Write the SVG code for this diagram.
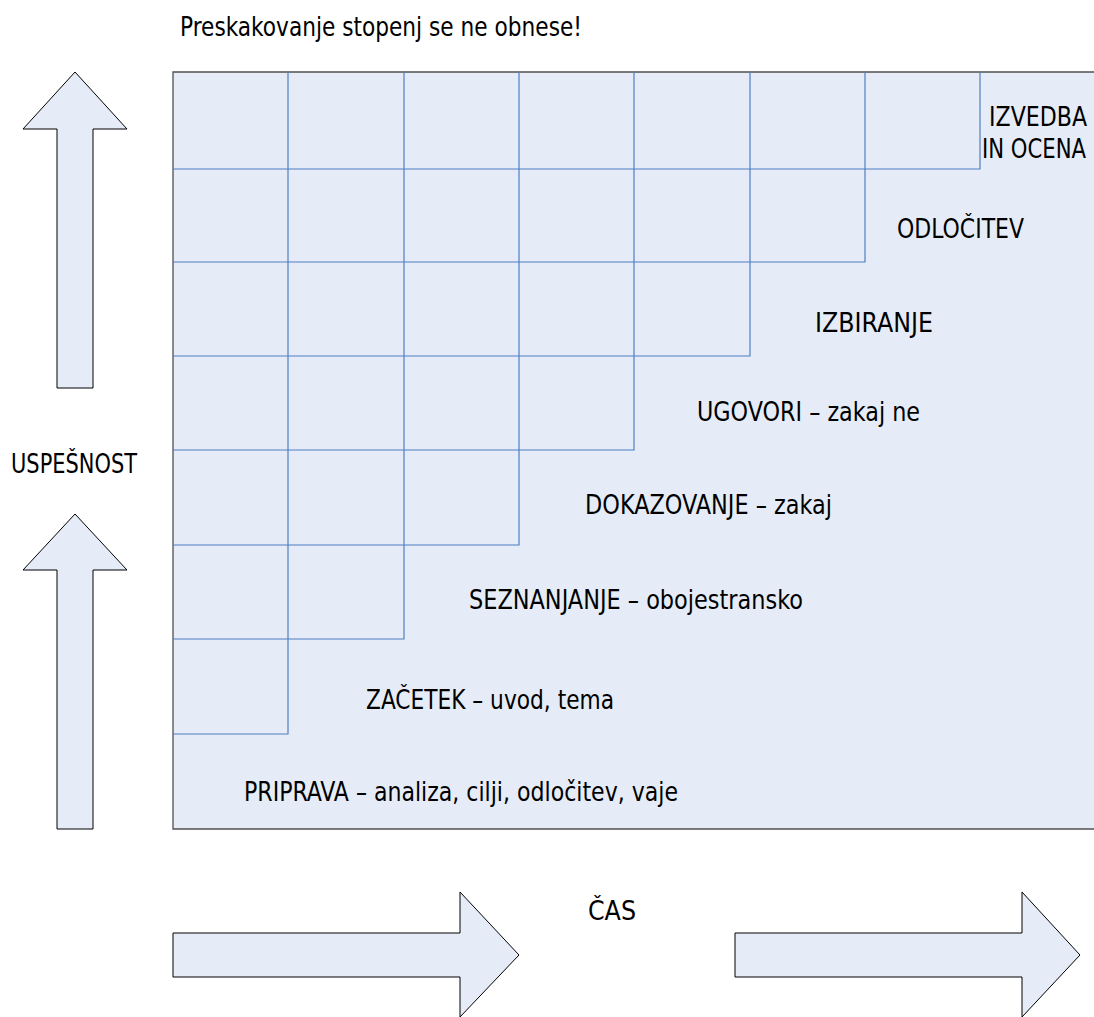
<svg xmlns="http://www.w3.org/2000/svg" width="1094" height="1017" viewBox="0 0 1094 1017">
<style>
.t{font-family:"DejaVu Sans Condensed","DejaVu Sans",sans-serif;font-stretch:condensed;font-size:26.5px;fill:#000}
.arrow{fill:#e6ecf7;stroke:#000;stroke-width:1}
.grid{fill:none;stroke:#4f7fc4;stroke-width:1.2}
</style>
<rect width="1094" height="1017" fill="#fff"/>
<text class="t" x="180" y="36" textLength="402" lengthAdjust="spacingAndGlyphs">Preskakovanje stopenj se ne obnese!</text>
<g id="board">
<rect x="173" y="72" width="921" height="757" fill="#e6ecf7"/>
<path d="M1094 72H173V829H1094" fill="none" stroke="#505050" stroke-width="1.3"/>
<path class="grid" d="M173 169H980V72 M173 262H865V72 M173 356H750V72 M173 450H634V72 M173 545H519V72 M173 639H404V72 M173 734H288V72"/>
</g>
<g id="labels">
<text class="t" x="989" y="126" textLength="98" lengthAdjust="spacingAndGlyphs">IZVEDBA</text>
<text class="t" x="982" y="158" textLength="104" lengthAdjust="spacingAndGlyphs">IN OCENA</text>
<text class="t" x="897" y="238" textLength="127" lengthAdjust="spacingAndGlyphs">ODLOČITEV</text>
<text class="t" x="815" y="332" textLength="118" lengthAdjust="spacingAndGlyphs">IZBIRANJE</text>
<text class="t" x="697" y="421" textLength="223" lengthAdjust="spacingAndGlyphs">UGOVORI – zakaj ne</text>
<text class="t" x="585" y="514" textLength="247" lengthAdjust="spacingAndGlyphs">DOKAZOVANJE – zakaj</text>
<text class="t" x="469" y="609" textLength="334" lengthAdjust="spacingAndGlyphs">SEZNANJANJE – obojestransko</text>
<text class="t" x="366" y="709" textLength="248" lengthAdjust="spacingAndGlyphs">ZAČETEK – uvod, tema</text>
<text class="t" x="244" y="801" textLength="434" lengthAdjust="spacingAndGlyphs">PRIPRAVA – analiza, cilji, odločitev, vaje</text>
</g>
<g id="axis-up">
<path class="arrow" d="M75 72L127 129H93V388H57V129H23Z"/>
<path class="arrow" d="M75 514L127 570H93V829H57V570H23Z"/>
<text class="t" x="11" y="473" textLength="126" lengthAdjust="spacingAndGlyphs">USPEŠNOST</text>
</g>
<g id="axis-time">
<path class="arrow" d="M173 933H460V892L519 955L460 1017V977H173Z"/>
<path class="arrow" d="M735 933H1022V892L1080 955L1022 1017V977H735Z"/>
<text class="t" x="588" y="920" textLength="48" lengthAdjust="spacingAndGlyphs">ČAS</text>
</g>
</svg>
